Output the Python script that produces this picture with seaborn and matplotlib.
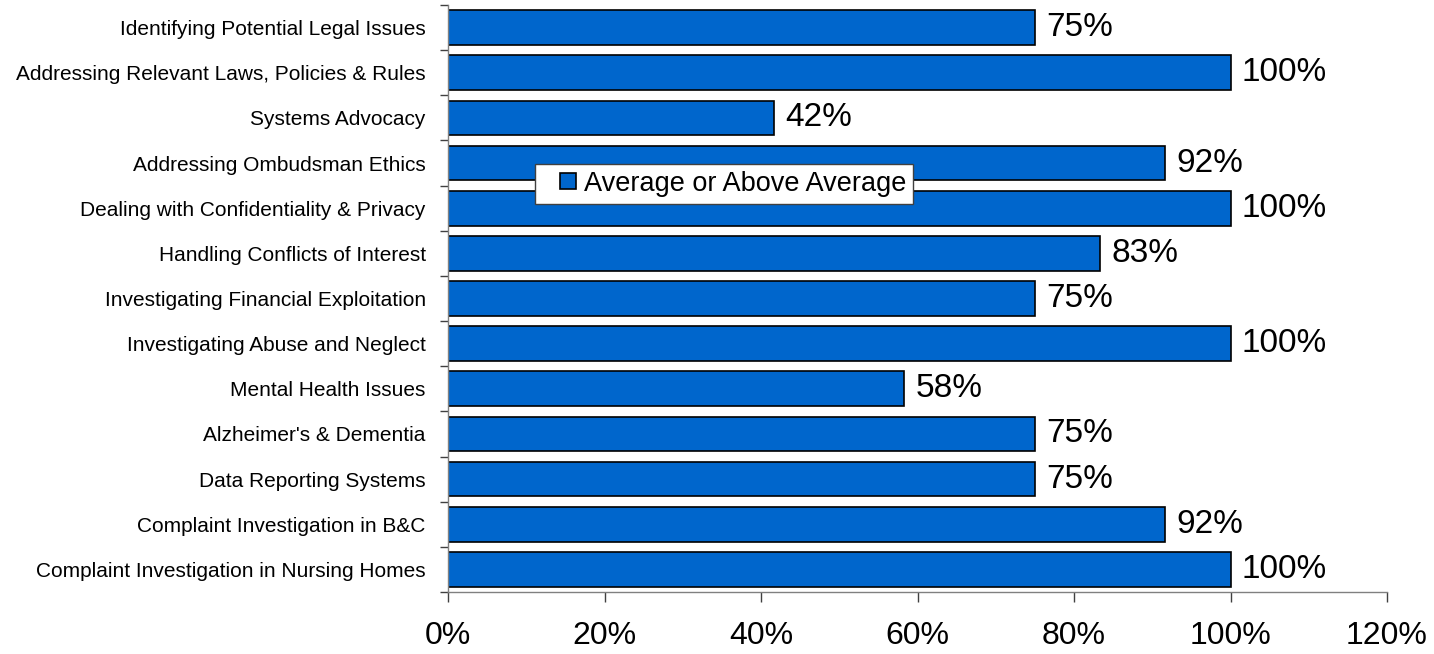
import matplotlib
matplotlib.use("Agg")
import matplotlib.pyplot as plt
import seaborn as sns
import pandas as pd
import numpy as np
from matplotlib.ticker import FixedLocator, PercentFormatter
from matplotlib.legend_handler import HandlerPatch, update_from_first_child
from matplotlib.patches import Rectangle
from matplotlib.container import BarContainer

categories = [
    "Identifying Potential Legal Issues",
    "Addressing Relevant Laws, Policies & Rules",
    "Systems Advocacy",
    "Addressing Ombudsman Ethics",
    "Dealing with Confidentiality & Privacy",
    "Handling Conflicts of Interest",
    "Investigating Financial Exploitation",
    "Investigating Abuse and Neglect",
    "Mental Health Issues",
    "Alzheimer's & Dementia",
    "Data Reporting Systems",
    "Complaint Investigation in B&C",
    "Complaint Investigation in Nursing Homes",
]
values = [75.0, 100.0, 41.67, 91.67, 100.0, 83.33, 75.0, 100.0, 58.33, 75.0, 75.0, 91.67, 100.0]
series_name = "Average or Above Average"
x_ticks = [0, 20, 40, 60, 80, 100, 120]

df = pd.DataFrame({"category": categories, "value": values})

sns.set_theme(style="white")
plt.rcParams["font.family"] = ["Liberation Sans", "DejaVu Sans"]
plt.rcParams["text.color"] = "black"
plt.rcParams["xtick.labelcolor"] = "black"
plt.rcParams["ytick.labelcolor"] = "black"

fig = plt.figure(figsize=(14.34, 6.54), dpi=100)
ax = fig.add_axes([448/1434, 1 - 592/654, (1387-448)/1434, (592-5)/654])

sns.barplot(data=df, x="value", y="category", orient="h", color="#0066CC",
            saturation=1, edgecolor="black", linewidth=1.2, width=0.77,
            label=series_name, ax=ax)

labels = [f"{round(v):.0f}%" for v in values]
ax.bar_label(ax.containers[0], labels=labels, padding=8, fontsize=24, color="black")

ax.set_xlim(0, 120)
ax.set_ylim(len(categories) - 0.5, -0.5)
ax.set_xlabel("")
ax.set_ylabel("")

ax.xaxis.set_major_locator(FixedLocator(x_ticks))
ax.xaxis.set_major_formatter(PercentFormatter(decimals=0))
ax.tick_params(axis="x", which="major", direction="out", length=7, width=1,
               color="#404040", labelsize=23, pad=14, bottom=True, labelcolor="black")

ax.yaxis.set_minor_locator(FixedLocator(np.arange(-0.5, len(categories), 1.0)))
ax.tick_params(axis="y", which="major", length=0, labelsize=15, pad=16, left=False,
               labelcolor="black")
ax.tick_params(axis="y", which="minor", direction="out", length=6, width=1,
               color="#404040", left=True)

for side in ["top", "right"]:
    ax.spines[side].set_visible(False)
for side in ["left", "bottom"]:
    ax.spines[side].set_visible(True)
    ax.spines[side].set_color("#808080")
    ax.spines[side].set_linewidth(1)


def square_patch(legend, orig_handle, xdescent, ydescent, width, height, fontsize):
    s = height * 0.85
    return Rectangle((-xdescent + width - s, -ydescent + (height - s) / 2), s, s)


square_handler = HandlerPatch(patch_func=square_patch, update_func=update_from_first_child)

leg = ax.legend(loc="upper left", bbox_to_anchor=((535-448)/939, (592-164)/587),
                borderaxespad=0, fontsize=19.5, frameon=True, fancybox=False,
                shadow=False, handlelength=1.25, handleheight=0.7,
                handletextpad=0.3, borderpad=0.25,
                handler_map={BarContainer: square_handler, Rectangle: square_handler})
leg.get_frame().set_edgecolor("#404040")
leg.get_frame().set_linewidth(1)
leg.get_frame().set_facecolor("white")
leg.get_frame().set_alpha(1)
for t in leg.get_texts():
    t.set_color("black")

fig.savefig("out.png", dpi=100)
